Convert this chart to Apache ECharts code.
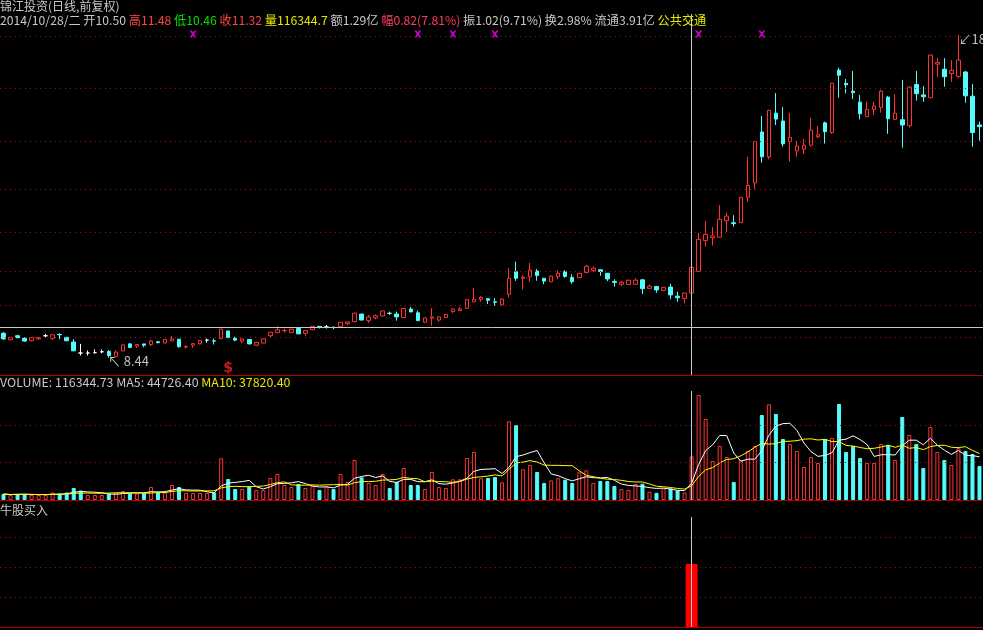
<!DOCTYPE html>
<html><head><meta charset="utf-8">
<script src="https://cdn.jsdelivr.net/npm/echarts@6/dist/echarts.min.js"></script>
<style>html,body{margin:0;padding:0;background:#000;}#c{width:983px;height:630px;}</style>
</head><body><div id="c"></div>
<script>
// ---------- data ----------
const opens = [
 9.22,9.01,9.14,9.06,8.98,9.04,9.14,9.06,9.18,9.09,
 8.94,8.59,8.59,8.60,8.63,8.64,8.47,8.66,8.88,8.81,
 8.88,8.86,8.95,8.91,8.98,9.03,8.78,8.84,8.88,9.00,
 8.98,9.05,9.29,9.06,8.97,9.02,8.84,8.91,9.14,9.24,
 9.30,9.24,9.37,9.22,9.33,9.44,9.42,9.41,9.43,9.53,
 9.59,9.83,9.62,9.71,9.77,9.86,9.83,9.72,9.99,9.87,
 9.57,9.70,9.64,9.72,9.91,9.94,10.01,10.22,10.30,10.32,
 10.22,10.12,10.46,11.18,10.97,11.02,11.20,10.97,10.86,11.02,
 11.18,11.00,10.99,11.15,11.22,11.24,11.13,10.87,10.78,10.77,
 10.78,10.92,10.65,10.71,10.58,10.69,10.40,10.33,10.50,11.19,
 12.17,12.26,12.28,12.80,12.74,12.74,13.55,14.01,15.63,14.84,
 16.23,15.98,15.32,15.03,15.08,15.21,15.48,15.92,15.61,17.60,
 17.18,16.93,16.58,16.12,16.35,16.41,16.74,16.03,16.02,15.83,
 17.14,16.81,16.72,17.79,17.63,17.49,17.40,17.54,16.77,15.85];
const highs = [
 9.26,9.09,9.17,9.09,9.09,9.09,9.20,9.18,9.22,9.10,
 9.03,8.88,8.67,8.71,8.70,8.69,8.68,8.86,8.91,8.87,
 8.88,9.01,8.97,9.03,9.14,9.04,8.83,8.89,9.00,9.05,
 9.05,9.36,9.30,9.11,9.05,9.03,8.94,9.05,9.26,9.45,
 9.37,9.36,9.41,9.32,9.45,9.45,9.48,9.43,9.58,9.59,
 9.87,9.84,9.80,9.82,9.94,9.91,9.91,10.02,10.06,9.94,
 9.72,10.02,9.75,9.83,10.00,10.06,10.30,10.66,10.40,10.33,
 10.34,10.32,11.29,11.50,11.07,11.46,11.26,10.98,11.05,11.22,
 11.23,11.10,11.14,11.39,11.34,11.25,11.14,10.94,10.89,10.92,
 10.97,10.95,10.77,10.72,10.69,10.79,10.54,10.50,11.48,12.42,
 12.79,12.60,13.30,13.06,12.98,13.56,14.84,15.34,16.14,16.33,
 16.87,16.42,16.23,15.34,15.41,16.08,15.82,15.96,17.19,17.68,
 17.32,17.57,16.81,16.59,16.59,16.97,16.78,16.84,17.29,17.09,
 17.57,17.09,18.09,17.99,17.98,17.92,18.72,17.57,17.16,15.96];
const lows = [
 9.01,9.00,9.06,8.95,8.97,9.01,9.07,9.01,9.03,8.97,
 8.65,8.51,8.51,8.58,8.58,8.44,8.46,8.64,8.74,8.75,
 8.77,8.81,8.90,8.90,8.97,8.76,8.73,8.75,8.87,8.92,
 8.86,9.04,9.06,8.97,8.90,8.87,8.81,8.90,9.09,9.23,
 9.24,9.23,9.19,9.14,9.32,9.37,9.37,9.35,9.42,9.48,
 9.58,9.63,9.55,9.66,9.76,9.80,9.62,9.71,9.89,9.61,
 9.56,9.46,9.59,9.71,9.86,9.93,10.00,10.21,10.22,10.15,
 10.10,10.11,10.36,10.89,10.61,10.86,10.89,10.78,10.85,10.94,
 10.99,10.80,10.98,11.14,11.16,11.05,10.88,10.70,10.72,10.76,
 10.77,10.47,10.64,10.51,10.57,10.30,10.22,10.17,10.46,11.18,
 11.98,12.01,12.27,12.45,12.61,12.73,13.41,13.80,14.65,14.76,
 15.85,15.16,14.68,14.84,14.93,15.16,15.43,15.26,15.57,16.72,
 16.86,16.68,16.03,16.11,16.17,16.24,15.57,16.02,15.13,15.77,
 16.63,16.59,16.71,17.39,17.07,17.23,17.34,16.56,15.16,15.35];
const closes = [
 9.04,9.08,9.08,8.97,9.08,9.08,9.14,9.17,9.17,8.98,
 8.66,8.59,8.59,8.60,8.63,8.51,8.62,8.85,8.77,8.86,
 8.84,8.97,8.92,9.02,9.04,8.79,8.80,8.89,8.99,9.00,
 8.97,9.35,9.09,9.00,9.04,8.88,8.93,9.04,9.25,9.33,
 9.31,9.35,9.20,9.31,9.44,9.41,9.42,9.40,9.57,9.58,
 9.86,9.64,9.74,9.78,9.93,9.85,9.74,10.01,9.90,9.62,
 9.71,9.74,9.74,9.82,9.99,9.99,10.29,10.30,10.36,10.27,
 10.21,10.31,10.97,10.97,11.01,11.23,11.06,10.88,11.04,11.13,
 11.03,10.86,11.13,11.35,11.29,11.19,10.95,10.84,10.84,10.91,
 10.91,10.64,10.72,10.60,10.68,10.44,10.35,10.50,11.32,12.21,
 12.37,12.32,12.85,12.95,12.71,13.55,13.93,15.33,14.84,16.32,
 16.04,15.25,15.46,15.18,15.21,15.69,15.54,15.64,17.18,17.44,
 17.13,16.88,16.21,16.35,16.46,16.93,16.05,16.23,15.85,17.06,
 16.85,16.75,18.08,17.84,17.39,17.59,17.92,16.78,15.61,15.80];
const volumes = [
 16000,13300,16000,16000,13300,13300,13300,20000,17300,20000,
 32000,25300,13300,13300,13300,16000,20000,24000,17300,17300,
 17300,34700,21300,20000,40000,34700,18700,18700,18700,18700,
 20000,111200,56000,29300,29300,35500,26700,26700,58700,69300,
 40000,34700,42700,32000,37300,26700,36500,29300,69300,48000,
 106700,60500,45300,40000,69300,32000,48000,85300,40000,40000,
 29300,74700,34700,32000,55200,55200,112000,128000,57900,58700,
 61300,47200,209900,200000,81900,93300,74700,45300,52500,57900,
 54100,45300,73900,79200,45300,50700,50700,37300,29300,27000,
 43000,43500,22000,19072,30700,30700,25900,19987.27,116344.73,280000,
 216000,104000,144000,114700,48000,106700,130700,144000,226700,255200,
 229400,162700,149400,130700,88000,114700,98700,162700,165400,256000,
 128000,144000,112000,98700,98700,149400,146700,106700,221400,173400,
 149400,85300,194700,128000,106700,93300,138700,130700,122700,90700];
const buyIndex = [98];
const buyValue = [2.1];
const topMarks = [27, 59, 64, 70, 99, 108];
const dollarMarks = [32];
const priceGridLevels = [9.10, 10.12, 11.20, 12.44, 13.81, 15.34, 17.03, 18.69];
const volumeGridLevels = [100000, 200000];
const signalGridLevels = [1, 2, 3];
const cursorIndex = 98;
const cursorPrice = 9.40;
const stockName = '锦江投资';
const cursorDate = '2014/10/28/二';
const amountText = '1.29亿';
const turnoverText = '2.98%';
const floatText = '3.91亿';
const sectorText = '公共交通';
const indicatorName = '牛股买入';

// ---------- drawing ----------
const F = '"Noto Sans CJK SC","Noto Sans",sans-serif';
const RED = '#ff3232', CYAN = '#54fcfc', GRIDC = '#a81414', SEP = '#b40000', CROSS = '#c8c8c8';
const GRAY = '#c8c8c8', HRED = '#ff4444', GREEN = '#00e000', YEL = '#e6e600';
const cats = closes.map((_, i) => String(i + 1));
const isUp = i => closes[i] > opens[i] || (closes[i] === opens[i] && (i === 0 || closes[i] >= closes[i - 1]));
const candleData = opens.map((o, i) => [o, closes[i], lows[i], highs[i]]);
const ma = n => volumes.map((_, i) => { const s = Math.max(0, i - n + 1); let t = 0; for (let k = s; k <= i; k++) t += volumes[k]; return t / (i - s + 1); });
const ma5 = ma(5), ma10 = ma(10);
const priceMin = 7.89, priceMax = 19.387;
const volMax = 290667, sigMax = 3.6667;
const gl = -2.2, gw = 985.6;
const dotted = { color: GRIDC, type: [1, 4], width: 1 };
const crossStyle = { color: CROSS, type: 'solid', width: 1 };
let hiIdx = 0, loIdx = 0;
highs.forEach((h, i) => { if (h > highs[hiIdx]) hiIdx = i; });
lows.forEach((l, i) => { if (l < lows[loIdx]) loIdx = i; });

function lines(levels, extra) {
  return {
    silent: true, symbol: 'none', animation: false, label: { show: false },
    lineStyle: dotted,
    data: levels.map(v => ({ yAxis: v, lineStyle: dotted })).concat(extra)
  };
}

const c = cursorIndex;
const o = opens[c], h = highs[c], l = lows[c], cl = closes[c], pc = closes[c - 1];
const row2 = `{g|${cursorDate} 开${o.toFixed(2)} }{r|高${h.toFixed(2)} }{gn|低${l.toFixed(2)} }{r|收${cl.toFixed(2)} }{y|量${volumes[c].toFixed(1)} }{g|额${amountText} }{p|幅${(cl - pc).toFixed(2)}(${((cl - pc) / pc * 100).toFixed(2)}%) }{g|振${(h - l).toFixed(2)}(${((h - l) / pc * 100).toFixed(2)}%) 换${turnoverText} 流通${floatText} }{y|${sectorText}}`;
const row3 = `{g|VOLUME: ${volumes[c].toFixed(2)} MA5: ${ma5[c].toFixed(2)} }{y|MA10: ${ma10[c].toFixed(2)}}`;
const ts = (col, fs) => ({ color: col, fontSize: fs, fontWeight: 'normal', fontFamily: F });
const rich2 = { g: ts(GRAY, 12.2), r: ts(HRED, 12.2), gn: ts(GREEN, 12.2), y: ts(YEL, 12.2), p: ts('#ff3c5a', 12.2) };
const rich3 = { g: ts(GRAY, 12.4), y: ts(YEL, 12.4) };

const buyData = closes.map(() => null);
buyIndex.forEach((idx, k) => { buyData[idx] = buyValue[k]; });

const xAx = gi => ({
  type: 'category', gridIndex: gi, data: cats, boundaryGap: true,
  axisLine: { show: true, onZero: false, lineStyle: { color: SEP, width: 1 } },
  axisTick: { show: false }, axisLabel: { show: false }, splitLine: { show: false }
});
const yAx = (gi, mn, mx) => ({ type: 'value', gridIndex: gi, min: mn, max: mx, show: false, splitLine: { show: false } });

const chart = echarts.init(document.getElementById('c'));
chart.setOption({
  backgroundColor: '#000',
  animation: false,
  title: [
    { text: stockName + '(日线,前复权)', left: 0, top: 0, padding: 0, textStyle: { color: GRAY, fontSize: 12, fontWeight: 'normal', fontFamily: F } },
    { text: row2, left: 0, top: 14, padding: 0, textStyle: { fontSize: 12.2, fontWeight: 'normal', fontFamily: F, rich: rich2 } },
    { text: row3, left: 0, top: 376, padding: 0, textStyle: { fontSize: 12.4, fontWeight: 'normal', fontFamily: F, rich: rich3 } },
    { text: indicatorName, left: 0, top: 504, padding: 0, textStyle: { color: GRAY, fontSize: 12, fontWeight: 'normal', fontFamily: F } }
  ],
  grid: [
    { left: gl, width: gw, top: 14, height: 361 },
    { left: gl, width: gw, top: 391, height: 109 },
    { left: gl, width: gw, top: 517, height: 110 }
  ],
  xAxis: [xAx(0), xAx(1), xAx(2)],
  yAxis: [yAx(0, priceMin, priceMax), yAx(1, 0, volMax), yAx(2, 0, sigMax)],
  series: [
    {
      type: 'candlestick', xAxisIndex: 0, yAxisIndex: 0, data: candleData, barWidth: 4, silent: true,
      itemStyle: { color: '#000', color0: CYAN, borderColor: RED, borderColor0: CYAN, borderColorDoji: '#ffffff', borderWidth: 1 },
      markLine: lines(priceGridLevels, [{ xAxis: cursorIndex, lineStyle: crossStyle }, { yAxis: cursorPrice, lineStyle: crossStyle }]),
      markPoint: {
        silent: true, symbol: 'circle', symbolSize: 0, animation: false,
        data: [
          { coord: [loIdx, lows[loIdx]], label: { show: true, position: 'right', distance: 0, offset: [-1, 3], formatter: '↖ ' + lows[loIdx].toFixed(2), color: '#c0c0c0', fontSize: 13, fontFamily: F } },
          { coord: [hiIdx, highs[hiIdx]], label: { show: true, position: 'right', distance: 0, offset: [0, 4], formatter: '↙' + highs[hiIdx].toFixed(2), color: '#c0c0c0', fontSize: 13, fontFamily: F } }
        ]
      }
    },
    {
      type: 'scatter', xAxisIndex: 0, yAxisIndex: 0, silent: true, clip: false,
      data: topMarks.map(i => [i, priceMax]),
      symbol: 'path://M0,0L3,0L5,3L7,0L10,0L6.5,5L10,10L7,10L5,7L3,10L0,10L3.5,5Z', symbolSize: 7, symbolOffset: [0, 20],
      itemStyle: { color: '#ff00ff' }
    },
    {
      type: 'scatter', xAxisIndex: 0, yAxisIndex: 0, silent: true, clip: false,
      data: dollarMarks.map(i => [i, priceMin]), symbolSize: 0,
      label: { show: true, position: 'top', distance: 0, formatter: '$', color: '#ff2020', fontSize: 14, fontWeight: 'bold', fontFamily: 'DejaVu Sans' }
    },
    {
      type: 'bar', xAxisIndex: 1, yAxisIndex: 1, barWidth: 4, silent: true,
      data: volumes.map((v, i) => ({ value: v, itemStyle: isUp(i) ? { color: '#000', borderColor: RED, borderWidth: 1 } : { color: CYAN, borderColor: CYAN, borderWidth: 1 } })),
      markLine: lines(volumeGridLevels, [{ xAxis: cursorIndex, lineStyle: crossStyle }])
    },
    { type: 'line', xAxisIndex: 1, yAxisIndex: 1, data: ma5, showSymbol: false, silent: true, lineStyle: { color: '#ffffff', width: 1 } },
    { type: 'line', xAxisIndex: 1, yAxisIndex: 1, data: ma10, showSymbol: false, silent: true, lineStyle: { color: '#ffff00', width: 1 } },
    {
      type: 'bar', xAxisIndex: 2, yAxisIndex: 2, barWidth: 12, silent: true, data: buyData,
      itemStyle: { color: '#ff0000' },
      markLine: lines(signalGridLevels, [{ xAxis: cursorIndex, lineStyle: crossStyle }])
    }
  ]
});
</script>
</body></html>
